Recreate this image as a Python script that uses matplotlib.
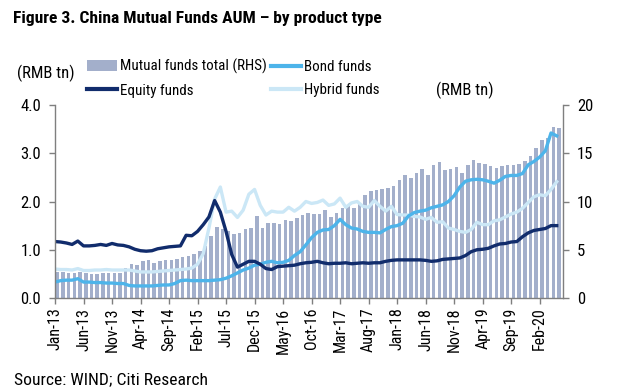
import matplotlib
matplotlib.use("Agg")
import matplotlib.pyplot as plt
from matplotlib.patches import Patch
from matplotlib.lines import Line2D
import numpy as np

plt.rcParams['font.family'] = ['Roboto Condensed', 'DejaVu Sans']

tick_labels = ["Jan-13", "Jun-13", "Nov-13", "Apr-14", "Sep-14", "Feb-15", "Jul-15",
               "Dec-15", "May-16", "Oct-16", "Mar-17", "Aug-17", "Jan-18", "Jun-18",
               "Nov-18", "Apr-19", "Sep-19", "Feb-20"]

# Monthly data Jan-13 .. May-20 (RMB tn)
equity = [1.17, 1.16, 1.14, 1.11, 1.18, 1.08, 1.08, 1.09, 1.11, 1.09,
          1.13, 1.10, 1.09, 1.06, 1.01, 0.98, 0.97, 0.98, 1.02, 1.04,
          1.06, 1.07, 1.08, 1.30, 1.29, 1.38, 1.52, 1.68, 2.02, 1.78,
          1.38, 0.90, 0.64, 0.70, 0.76, 0.76, 0.70, 0.61, 0.59, 0.65,
          0.66, 0.67, 0.68, 0.71, 0.73, 0.74, 0.76, 0.73, 0.71, 0.72,
          0.72, 0.73, 0.71, 0.72, 0.73, 0.72, 0.73, 0.73, 0.76, 0.78,
          0.79, 0.79, 0.79, 0.79, 0.79, 0.78, 0.76, 0.77, 0.80, 0.81,
          0.82, 0.83, 0.88, 0.96, 1.00, 1.01, 1.03, 1.08, 1.12, 1.13,
          1.16, 1.17, 1.27, 1.35, 1.40, 1.42, 1.44, 1.50, 1.50]

bond = [0.33, 0.36, 0.37, 0.37, 0.40, 0.33, 0.33, 0.32, 0.32, 0.31,
        0.31, 0.30, 0.30, 0.26, 0.25, 0.25, 0.25, 0.25, 0.26, 0.27,
        0.27, 0.30, 0.36, 0.37, 0.36, 0.36, 0.36, 0.36, 0.37, 0.38,
        0.41, 0.46, 0.52, 0.58, 0.62, 0.68, 0.70, 0.74, 0.76, 0.73,
        0.74, 0.78, 0.88, 0.96, 1.10, 1.25, 1.36, 1.41, 1.42, 1.50,
        1.63, 1.52, 1.45, 1.43, 1.38, 1.36, 1.36, 1.35, 1.42, 1.48,
        1.50, 1.55, 1.70, 1.77, 1.80, 1.82, 1.87, 1.90, 1.93, 2.00,
        2.12, 2.30, 2.42, 2.45, 2.46, 2.45, 2.42, 2.38, 2.44, 2.52,
        2.54, 2.54, 2.58, 2.76, 2.83, 2.92, 3.05, 3.42, 3.36]

hybrid = [0.60, 0.59, 0.59, 0.58, 0.61, 0.57, 0.57, 0.58, 0.58, 0.59,
          0.58, 0.58, 0.58, 0.58, 0.56, 0.54, 0.54, 0.54, 0.55, 0.56,
          0.57, 0.58, 0.59, 0.60, 0.62, 0.70, 0.92, 1.45, 2.05, 2.30,
          1.78, 1.80, 1.67, 1.82, 2.15, 2.25, 1.92, 1.72, 1.80, 1.78,
          1.78, 1.88, 1.80, 1.88, 2.00, 1.96, 1.98, 2.03, 1.92, 1.95,
          2.07, 1.88, 1.97, 2.00, 1.90, 1.88, 2.02, 1.90, 1.80, 1.90,
          1.73, 1.72, 1.72, 1.69, 1.68, 1.63, 1.67, 1.57, 1.58, 1.45,
          1.42, 1.38, 1.36, 1.42, 1.57, 1.52, 1.52, 1.60, 1.62, 1.68,
          1.74, 1.78, 1.86, 1.98, 2.10, 2.14, 2.12, 2.25, 2.41]

total = [2.65, 2.65, 2.60, 2.55, 2.70, 2.55, 2.50, 2.50, 2.55, 2.60,
         2.55, 2.60, 3.10, 3.55, 3.45, 3.80, 3.95, 3.60, 3.85, 3.90,
         3.90, 4.05, 4.20, 4.40, 4.55, 4.85, 5.35, 6.40, 7.40, 7.10,
         6.90, 6.60, 6.70, 7.10, 7.25, 8.45, 7.25, 7.80, 7.80, 7.70,
         8.10, 7.95, 8.30, 8.55, 8.80, 8.70, 8.70, 9.15, 8.40, 8.80,
         9.30, 9.50, 9.30, 9.70, 10.70, 11.05, 11.15, 11.30, 11.40, 11.60,
         12.20, 12.70, 12.40, 12.95, 13.40, 12.70, 13.80, 14.10, 13.30, 13.40,
         13.60, 13.00, 13.80, 14.25, 13.95, 13.90, 13.70, 13.45, 13.70, 13.80,
         13.80, 13.90, 14.20, 14.70, 15.50, 16.40, 16.55, 17.75, 17.60]

n = len(total)
x = np.arange(n)

C_BAR = '#A3AFCB'
C_EQ = '#112C6C'
C_BOND = '#4DB4EA'
C_HYB = '#CBE7F6'
C_AX = '#7F7F7F'

fig = plt.figure(figsize=(6.24, 3.92), dpi=100)
ax = fig.add_axes([55/624, 1-298/392, (563-55)/624, (298-105)/392])
ax2 = ax.twinx()

ax2.bar(x + 0.4, total, width=0.62, color=C_BAR, linewidth=0)
ax.set_zorder(ax2.get_zorder() + 1)
ax.patch.set_visible(False)

lw = 2.4
ax.plot(x, hybrid, color=C_HYB, lw=lw, solid_joinstyle='round')
ax.plot(x, bond, color=C_BOND, lw=lw, solid_joinstyle='round')
ax.plot(x, equity, color=C_EQ, lw=lw, solid_joinstyle='round')

ax.set_xlim(0, 89.1)
ax.set_ylim(0, 4.0)
ax2.set_ylim(0, 20)
ax.set_yticks(np.arange(0, 4.01, 1.0))
ax.set_yticklabels([f"{v:.1f}" for v in np.arange(0, 4.01, 1.0)])
ax2.set_yticks(np.arange(0, 21, 5))
ax.set_xticks(np.arange(0, 5 * len(tick_labels), 5))
ax.set_xticklabels(tick_labels, rotation=90)

for a in (ax, ax2):
    a.spines['top'].set_visible(False)
    for s in ('left', 'right', 'bottom'):
        a.spines[s].set_color(C_AX)
        a.spines[s].set_linewidth(1.0)
    a.tick_params(colors='black', labelsize=12, length=4, width=1.0, direction='out')
    a.tick_params(axis='both', color=C_AX)
ax.spines['right'].set_visible(False)
ax2.spines['left'].set_visible(False)
ax2.spines['bottom'].set_visible(False)
ax.tick_params(axis='x', labelsize=11.5, pad=3)
ax.tick_params(axis='y', pad=6)
ax2.tick_params(axis='y', pad=6)

fig.text(13/624, 1-18/392, "Figure 3. China Mutual Funds AUM \u2013 by product type",
         fontsize=12.6, fontweight='bold', ha='left', va='center')
fig.text(17/624, 1-73/392, "(RMB tn)", fontsize=12, ha='left', va='center')
fig.text(494/624, 1-90/392, "(RMB tn)", fontsize=12, ha='right', va='center')
fig.text(14/624, 1-380/392, "Source: WIND; Citi Research", fontsize=12.6, ha='left', va='center')

handles = [Patch(facecolor=C_BAR, edgecolor='none'),
           Line2D([], [], color=C_EQ, lw=3),
           Line2D([], [], color=C_BOND, lw=3),
           Line2D([], [], color=C_HYB, lw=3)]
labels = ["Mutual funds total (RHS)", "Equity funds", "Bond funds", "Hybrid funds"]
fig.legend(handles, labels, ncol=2, loc='upper left', bbox_to_anchor=(87/624, 1-59/392),
           frameon=False, fontsize=10.8, handlelength=2.0, handletextpad=0.2,
           columnspacing=0.3, labelspacing=0.62, borderpad=0, borderaxespad=0)

fig.savefig("out.png", dpi=100)
